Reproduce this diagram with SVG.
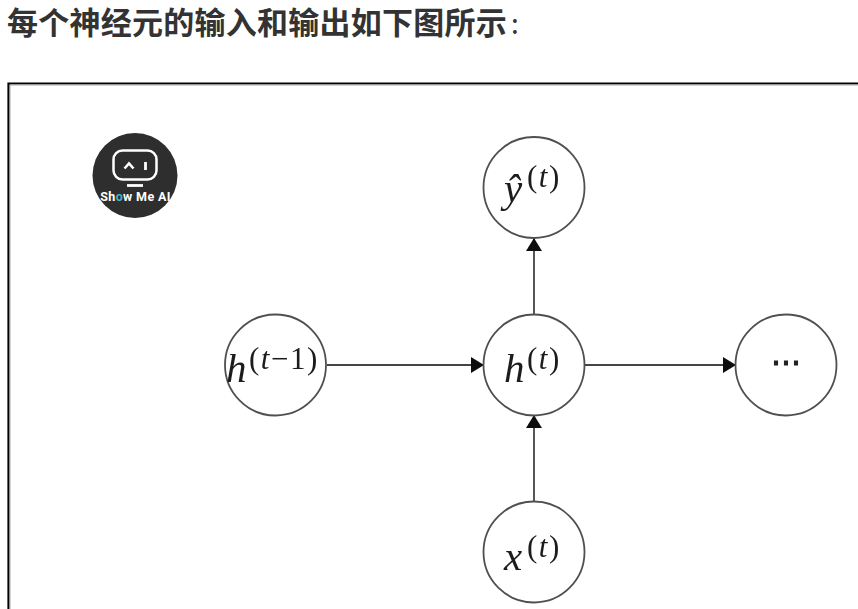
<svg xmlns="http://www.w3.org/2000/svg" width="858" height="609" viewBox="0 0 858 609">
<style>
.n{fill:#fff;stroke:#505050;stroke-width:1.800}
.c{stroke:#444;stroke-width:1.800;fill:none;marker-end:url(#a)}
.m{font-family:"Liberation Serif",serif;font-style:italic;font-size:41px;fill:#1c1c1c}
.s{font-family:"Liberation Serif",serif;font-size:31px;letter-spacing:1.500px;fill:#1c1c1c}
.i{font-style:italic}
.h{font-family:"Noto Sans CJK SC",sans-serif;font-size:31px;font-weight:700;fill:#333;letter-spacing:.25px}
</style>
<defs>
<marker id="a" markerUnits="userSpaceOnUse" markerWidth="14" markerHeight="16" refX="13" refY="8" orient="auto"><path d="M0 0L13 8L0 16z" fill="#111"/></marker>
<filter id="b" x="-5%" y="-5%" width="110%" height="110%"><feGaussianBlur stdDeviation=".4"/></filter>
</defs>
<rect width="858" height="609" fill="#fff"/>
<text class="h" x="7" y="34">每个神经元的输入和输出如下图所示<tspan dx="4" font-weight="400" font-size="28">:</tspan></text>
<path d="M8.500 609V83.500H858" fill="none" stroke="#000" stroke-width="2.200"/>
<path d="M10 609V85H858" fill="none" stroke="#aaa" stroke-width="1"/>
<g id="logo">
<circle cx="135" cy="175.500" r="42.500" fill="#2e2e2e"/>
<rect x="113.500" y="150.500" width="43" height="29" rx="9" fill="none" stroke="#fff" stroke-width="2.500"/>
<path d="M124.500 168.500L129 163.500L133.500 168.500" fill="none" stroke="#fff" stroke-width="2.600"/>
<path d="M145.500 162V170" stroke="#fff" stroke-width="2.800"/>
<path d="M127 185.500H143" stroke="#fff" stroke-width="2.800"/>
<text x="135.500" y="201" text-anchor="middle" font-family="Roboto,sans-serif" font-weight="700" font-size="12.500" fill="#fff" letter-spacing=".35">Sh<tspan fill="#3fb5cf">o</tspan>w Me AI</text>
</g>
<g filter="url(#b)">
<g id="connectors">
<path class="c" d="M327 365H484"/>
<path class="c" d="M584 365H736"/>
<path class="c" d="M534 315V238"/>
<path class="c" d="M534 502V415"/>
</g>
<g id="prev"><circle class="n" cx="275.500" cy="365" r="50.500"/>
<text class="m" x="226" y="382">h</text><text class="s" x="249" y="369">(<tspan class="i">t</tspan>−1)</text></g>
<g id="cur"><circle class="n" cx="534" cy="365" r="50.500"/>
<text class="m" x="504" y="382">h</text><text class="s" x="527" y="369">(<tspan class="i">t</tspan>)</text></g>
<g id="out"><circle class="n" cx="534" cy="187.500" r="50.500"/>
<text class="m" x="504" y="202">ŷ</text><text class="s" x="527" y="187">(<tspan class="i">t</tspan>)</text></g>
<g id="input"><circle class="n" cx="534" cy="552" r="50.500"/>
<text class="m" x="504" y="570">x</text><text class="s" x="527" y="557">(<tspan class="i">t</tspan>)</text></g>
<g id="next"><circle class="n" cx="786" cy="365" r="50.500"/>
<text x="786" y="372" text-anchor="middle" font-family="Liberation Serif,serif" font-size="30" font-weight="700" fill="#222">⋯</text></g>
</g>
</svg>
